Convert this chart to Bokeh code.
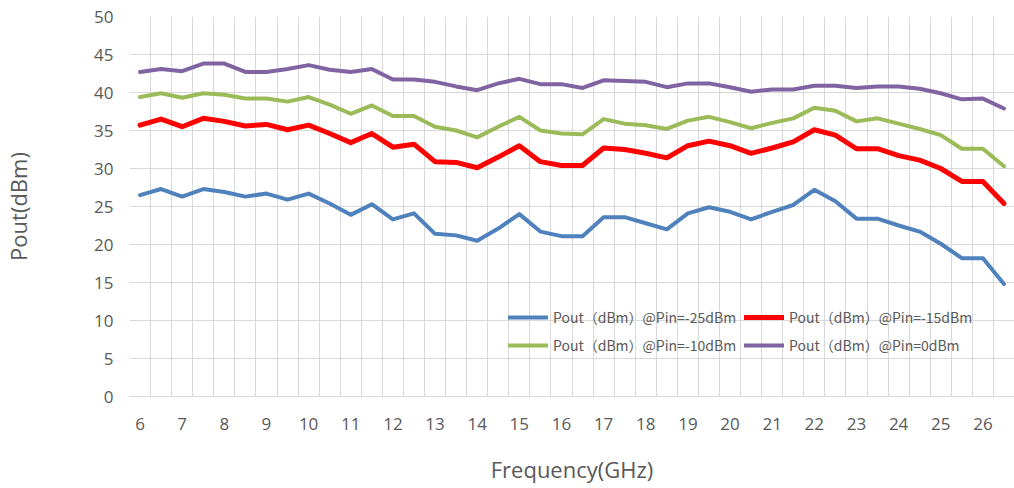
import numpy as np
from bokeh.plotting import figure
from bokeh.models import Range1d, FixedTicker, Legend, LegendItem
from bokeh.embed import file_html
from bokeh.resources import INLINE

freq = [6.0, 6.5, 7.0, 7.5, 8.0, 8.5, 9.0, 9.5, 10.0, 10.5, 11.0, 11.5, 12.0, 12.5,
        13.0, 13.5, 14.0, 14.5, 15.0, 15.5, 16.0, 16.5, 17.0, 17.5, 18.0, 18.5, 19.0, 19.5,
        20.0, 20.5, 21.0, 21.5, 22.0, 22.5, 23.0, 23.5, 24.0, 24.5, 25.0, 25.5, 26.0, 26.5]

pin_m25 = [26.5, 27.3, 26.3, 27.3, 26.9, 26.3, 26.7, 25.9, 26.7, 25.4, 23.9, 25.3, 23.3, 24.1,
           21.4, 21.2, 20.5, 22.1, 24.0, 21.7, 21.1, 21.1, 23.6, 23.6, 22.8, 22.0, 24.1, 24.9,
           24.3, 23.3, 24.3, 25.2, 27.2, 25.7, 23.4, 23.4, 22.5, 21.7, 20.1, 18.2, 18.2, 14.8]
pin_m15 = [35.7, 36.5, 35.5, 36.6, 36.2, 35.6, 35.8, 35.1, 35.7, 34.6, 33.4, 34.6, 32.8, 33.2,
           30.9, 30.8, 30.1, 31.5, 33.0, 30.9, 30.4, 30.4, 32.7, 32.5, 32.0, 31.4, 33.0, 33.6,
           33.0, 32.0, 32.7, 33.5, 35.1, 34.4, 32.6, 32.6, 31.7, 31.1, 30.0, 28.3, 28.3, 25.4]
pin_m10 = [39.4, 39.9, 39.3, 39.9, 39.7, 39.2, 39.2, 38.8, 39.4, 38.4, 37.2, 38.3, 36.9, 36.9,
           35.5, 35.0, 34.1, 35.5, 36.8, 35.0, 34.6, 34.5, 36.5, 35.9, 35.7, 35.2, 36.3, 36.8,
           36.1, 35.3, 36.0, 36.6, 38.0, 37.6, 36.2, 36.6, 35.9, 35.2, 34.4, 32.6, 32.6, 30.3]
pin_0 = [42.7, 43.1, 42.8, 43.8, 43.8, 42.7, 42.7, 43.1, 43.6, 43.0, 42.7, 43.1, 41.7, 41.7,
         41.4, 40.8, 40.3, 41.2, 41.8, 41.1, 41.1, 40.6, 41.6, 41.5, 41.4, 40.7, 41.2, 41.2,
         40.7, 40.1, 40.4, 40.4, 40.9, 40.9, 40.6, 40.8, 40.8, 40.5, 39.9, 39.1, 39.2, 37.9]

x_ticks = [6, 7, 8, 9, 10, 11, 12, 13, 14, 15, 16, 17, 18, 19, 20, 21, 22, 23, 24, 25, 26]
y_ticks = [0, 5, 10, 15, 20, 25, 30, 35, 40, 45, 50]

series_labels = ["Pout（dBm）@Pin=-25dBm", "Pout（dBm）@Pin=-15dBm",
                 "Pout（dBm）@Pin=-10dBm", "Pout（dBm）@Pin=0dBm"]
series_data = [pin_m25, pin_m15, pin_m10, pin_0]
colors = ["#4F81BD", "#FF0000", "#9BBB59", "#8064A2"]
widths = [4, 5, 4, 4]

FONT = "Open Sans"
TXT = "#595959"
GRID = "#D9D9D9"

half = 0.25
p = figure(width=1014, height=488, output_backend="svg", toolbar_location=None,
           x_range=Range1d(freq[0] - half, freq[-1] + half), y_range=Range1d(0, 50),
           min_border_left=126, min_border_right=0, min_border_top=16, min_border_bottom=92)
p.outline_line_color = None
p.background_fill_color = "white"

# axes
p.xaxis.ticker = FixedTicker(ticks=x_ticks)
p.yaxis.ticker = FixedTicker(ticks=y_ticks)
for ax in (p.xaxis[0], p.yaxis[0]):
    ax.major_tick_line_color = None
    ax.minor_tick_line_color = None
    ax.major_label_text_font = FONT
    ax.major_label_text_font_size = "17px"
    ax.major_label_text_color = TXT
    ax.axis_label_text_font = FONT
    ax.axis_label_text_font_size = "22px"
    ax.axis_label_text_font_style = "normal"
    ax.axis_label_text_color = TXT
p.xaxis.axis_line_color = GRID
p.yaxis.axis_line_color = None
p.xaxis.major_label_standoff = 15
p.yaxis.major_label_standoff = 10
p.xaxis.axis_label = "Frequency(GHz)"
p.yaxis.axis_label = "Pout(dBm)"
p.xaxis.axis_label_standoff = 21
p.yaxis.axis_label_standoff = 58

# grids: horizontal at y ticks, vertical at category boundaries
p.ygrid.grid_line_color = GRID
p.ygrid.ticker = FixedTicker(ticks=y_ticks)
bounds = list(np.array(freq) - half) + [freq[-1] + half]
p.xgrid.ticker = FixedTicker(ticks=bounds)
p.xgrid.grid_line_color = GRID

renderers = []
for ys, c, w in zip(series_data, colors, widths):
    r = p.line(freq, ys, line_color=c, line_width=w, line_join="round", line_cap="round")
    renderers.append(r)

legend = Legend(items=[LegendItem(label=l, renderers=[r]) for l, r in zip(series_labels, renderers)],
                orientation="horizontal", ncols=2, location=(379, 41),
                padding=0, margin=0, spacing=8, glyph_width=40, glyph_height=20,
                label_height=20, label_standoff=5,
                label_text_font="Noto Sans CJK SC", label_text_font_size="14px",
                label_text_color=TXT, background_fill_alpha=0, border_line_color=None)
p.add_layout(legend, "center")

open("out.html", "w").write(file_html(p, INLINE))
